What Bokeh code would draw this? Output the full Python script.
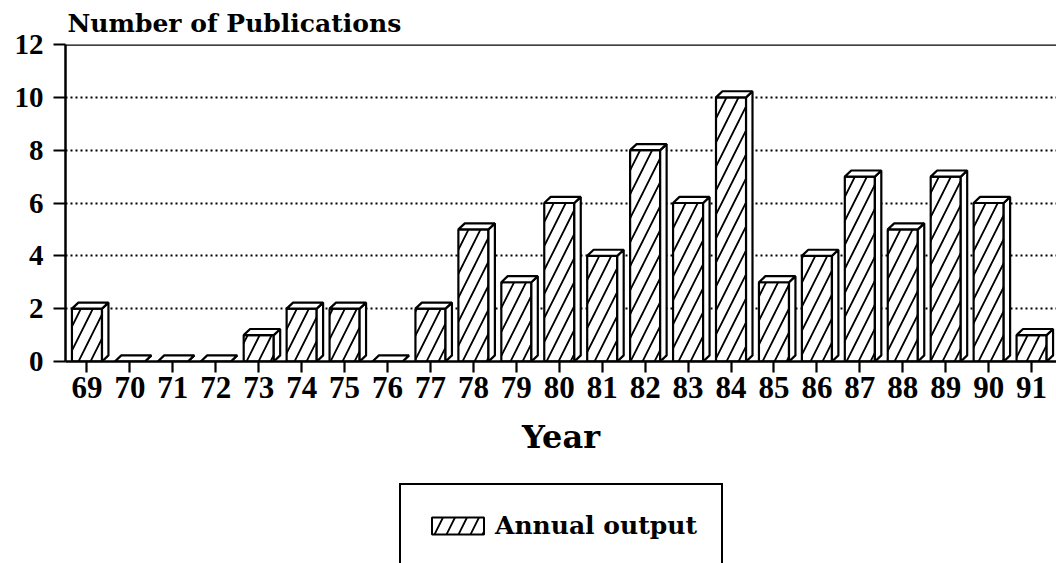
import numpy as np
from bokeh.plotting import figure
from bokeh.layouts import column
from bokeh.models import Range1d, FixedTicker, Legend, LegendItem, Span
from bokeh.embed import file_html
from bokeh.resources import INLINE

# ---- data ----
years = [69, 70, 71, 72, 73, 74, 75, 76, 77, 78, 79, 80, 81, 82, 83, 84, 85, 86, 87, 88, 89, 90, 91]
counts = [2, 0, 0, 0, 1, 2, 2, 0, 2, 5, 3, 6, 4, 8, 6, 10, 3, 4, 7, 5, 7, 6, 1]
y_ticks = [0, 2, 4, 6, 8, 10, 12]
grid_ticks = [2, 4, 6, 8, 10]
title_text = "Number of Publications"
x_title = "Year"
legend_label = "Annual output"

# ---- 3D bar geometry (data units) ----
BAR_W = 0.70
DX = 0.15
DY = 0.23

x = np.array(years, dtype=float)
v = np.array(counts, dtype=float)
left = x - BAR_W / 2
right = x + BAR_W / 2
top_xs = [[l, l + DX, r + DX, r] for l, r in zip(left, right)]
top_ys = [[h, h + DY, h + DY, h] for h in v]
side_xs = [[r, r, r + DX, r + DX] for r in right]
side_ys = [[0, h, h + DY, DY] for h in v]

SERIF = "DejaVu Serif"
DIGITS = "Liberation Serif"
HATCH = dict(hatch_pattern="/", hatch_color="black", hatch_scale=24, hatch_weight=1.8)

W = 1056
H1 = 470
H2 = 93

p = figure(width=W, height=H1,
           x_range=Range1d(68.5, 91.58), y_range=Range1d(0, 12),
           output_backend="svg", toolbar_location=None,
           min_border_left=65, min_border_right=0, min_border_top=44,
           min_border_bottom=109, background_fill_color="white",
           border_fill_color="white", outline_line_color=None)

p.title.text = title_text
p.title.align = "left"
p.title.offset = 2
p.title.text_font = SERIF
p.title.text_font_style = "bold"
p.title.text_font_size = "25px"
p.title.text_color = "black"
p.title.standoff = 13

front = p.vbar(x=x, top=v, width=BAR_W, bottom=0, fill_color="white",
               line_color="black", line_width=2.2, **HATCH)
p.patches(side_xs, side_ys, fill_color="white", line_color="black", line_width=2.2)
p.patches(top_xs, top_ys, fill_color="white", line_color="black", line_width=2.2)

p.add_layout(Span(location=12, dimension="width", line_color="black", line_width=2.5))

# axes
p.xaxis.ticker = FixedTicker(ticks=years)
p.xaxis.axis_label = x_title
p.xaxis.axis_label_text_font = SERIF
p.xaxis.axis_label_text_font_style = "bold"
p.xaxis.axis_label_text_font_size = "32px"
p.xaxis.axis_label_text_color = "black"
p.xaxis.axis_label_standoff = 17
p.xaxis.major_label_text_font = DIGITS
p.xaxis.major_label_text_font_style = "bold"
p.xaxis.major_label_text_font_size = "31px"
p.xaxis.major_label_text_color = "black"
p.xaxis.major_label_standoff = 4
p.xaxis.major_tick_out = 11
p.xaxis.major_tick_in = 0
p.xaxis.minor_tick_line_color = None
p.xaxis.axis_line_width = 2.5
p.xaxis.major_tick_line_width = 2.2
p.xaxis.axis_line_color = "black"
p.xaxis.major_tick_line_color = "black"

p.yaxis.ticker = FixedTicker(ticks=y_ticks)
p.yaxis.major_label_text_font = DIGITS
p.yaxis.major_label_text_font_style = "bold"
p.yaxis.major_label_text_font_size = "29px"
p.yaxis.major_label_text_color = "black"
p.yaxis.major_label_standoff = 10
p.yaxis.major_tick_out = 12
p.yaxis.major_tick_in = 0
p.yaxis.minor_tick_line_color = None
p.yaxis.axis_line_width = 2.5
p.yaxis.major_tick_line_width = 2.2
p.yaxis.axis_line_color = "black"
p.yaxis.major_tick_line_color = "black"

p.xgrid.grid_line_color = None
p.ygrid.ticker = FixedTicker(ticks=grid_ticks)
p.ygrid.grid_line_color = "black"
p.ygrid.grid_line_dash = "2 3"
p.ygrid.grid_line_width = 2.2

# ---- legend strip (below the chart, cut by the page edge like the scan) ----
p2 = figure(width=W, height=H2, x_range=Range1d(0, 1), y_range=Range1d(0, 1),
            output_backend="svg", toolbar_location=None,
            x_axis_type=None, y_axis_type=None,
            min_border_left=0, min_border_right=0, min_border_top=0,
            min_border_bottom=0, outline_line_color=None,
            background_fill_color="white", border_fill_color="white")
# legend proxy with the bars' style; NaN data so nothing is drawn in the strip
nan = float("nan")
swatch = p2.vbar(x=[nan], top=[nan], width=0.1, bottom=[nan], fill_color="white",
                 line_color="black", line_width=2, **HATCH)

legend = Legend(items=[LegendItem(label=legend_label, renderers=[swatch])],
                location=(334, -4), margin=0, padding=24,
                glyph_width=65, glyph_height=21, label_standoff=5,
                label_height=32,
                label_text_font=SERIF, label_text_font_style="bold",
                label_text_font_size="25px", label_text_color="black",
                border_line_color="black", border_line_width=2.2,
                border_line_alpha=1.0,
                background_fill_color="white", background_fill_alpha=1.0)
p2.add_layout(legend, "center")

layout = column(p, p2, spacing=0)
open("out.html", "w").write(file_html(layout, INLINE))
